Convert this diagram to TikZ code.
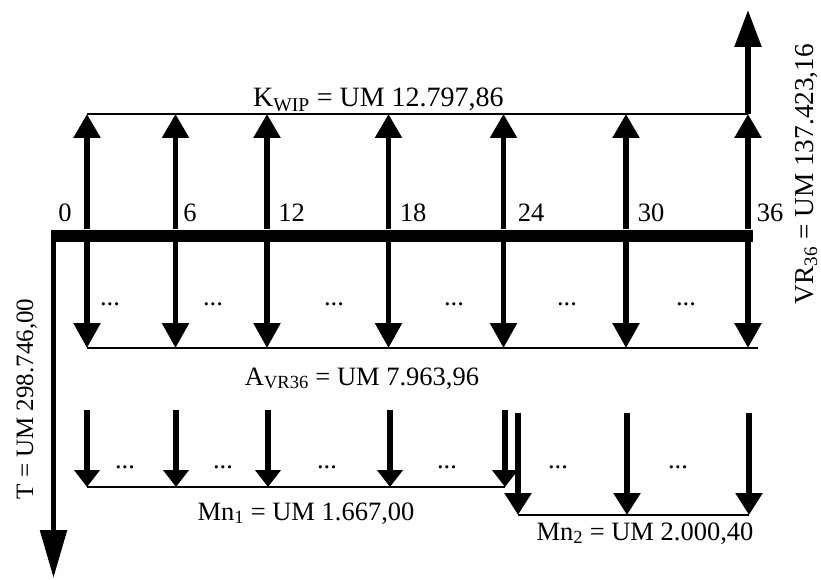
\documentclass[tikz,border=0pt]{standalone}
\usepackage{fontspec}
\setmainfont{Liberation Serif}
\usetikzlibrary{arrows.meta}
\begin{document}
\begin{tikzpicture}[x=1pt,y=-1pt,
  shaft/.style={line width=5.5pt},
  upar/.style={shaft,-{Triangle[width=26pt,length=24pt]}},
  dnar/.style={shaft,-{Triangle[width=26pt,length=25pt]}},
  mnone/.style={shaft,-{Triangle[width=25pt,length=17pt]}},
  mntwo/.style={shaft,-{Triangle[width=26pt,length=22pt]}},
  bigar/.style={shaft,-{Triangle[width=26pt,length=37pt]}},
  tar/.style={shaft,-{Triangle[width=26pt,length=48pt]}},
  thin/.style={line width=1.6pt},
  lbl/.style={font=\fontsize{26.5}{30}\selectfont, inner sep=0pt, anchor=base},
  dots/.style={font=\fontsize{26.5}{30}\selectfont, inner sep=0pt, anchor=base}
]
\useasboundingbox (0,0) rectangle (821,580);
% main axis
\coordinate (axL) at (50.5,235.5);
\coordinate (axR) at (753,235.5);
\draw[line width=12pt] (axL) -- (axR);
% tick positions
\foreach \n/\x in {0/87,6/175.5,12/267,18/388.5,24/503.5,30/626,36/748}{
  \coordinate (b\n) at (\x,229);
  \coordinate (bd\n) at (\x,242);
  \coordinate (k\n) at (\x,114);
  \coordinate (a\n) at (\x,348);
}
% K_WIP line and arrows
\draw[thin] (k0) -- (k36);
\foreach \n in {0,6,12,18,24,30,36}{ \draw[upar] (b\n) -- (k\n); }
\coordinate (vrtop) at (748,10);
\draw[bigar] (k36) -- (vrtop);
% A line and arrows
\coordinate (aR) at (758,348);
\draw[line width=2pt] (a0) -- (aR);
\foreach \n in {0,6,12,18,24,30,36}{ \draw[dnar] (bd\n) -- (a\n); }
% Mn1
\foreach \n/\x in {0/87,6/176,12/268,18/390,24/505}{
  \coordinate (ms\n) at (\x,410);
  \coordinate (me\n) at (\x,487);
}
\draw[line width=2pt] (me0) -- (me24);
\foreach \n in {0,6,12,18,24}{ \draw[mnone] (ms\n) -- (me\n); }
% Mn2
\foreach \n/\x in {24/518,30/627,36/749}{
  \coordinate (ns\n) at (\x,413);
  \coordinate (ne\n) at (\x,515);
}
\draw[line width=2pt] (ne24) -- (ne36);
\foreach \n in {24,30,36}{ \draw[mntwo] (ns\n) -- (ne\n); }
% T arrow
\coordinate (tS) at (53.5,236);
\coordinate (tE) at (53.5,578);
\draw[tar] (tS) -- (tE);
% tick labels
\foreach \t/\x in {0/65,6/190,12/291.5,18/413,24/531,30/651,36/770}{
  \node[lbl] (lab\t) at (\x,221) {\t};
}
% dots
\foreach \i/\x in {1/110,2/213,3/334,4/454,5/567,6/686}{
  \node[dots] (da\i) at (\x,305) {...};
}
\foreach \i/\x in {1/125,2/223,3/327,4/447,5/558,6/678}{
  \node[dots] (db\i) at (\x,468) {...};
}
% value labels
\node[lbl,font=\fontsize{28}{32}\selectfont] (kwip) at (378.5,107) {K\textsubscript{WIP} = UM 12.797,86};
\node[lbl] (avr) at (362,385) {A\textsubscript{VR36} = UM 7.963,96};
\node[lbl] (mn1) at (306,520) {Mn\textsubscript{1} = UM 1.667,00};
\node[lbl] (mn2) at (645,540) {Mn\textsubscript{2} = UM 2.000,40};
\node[lbl,rotate=90,font=\fontsize{25}{29}\selectfont] (tl) at (33,399) {T = UM 298.746,00};
\node[lbl,rotate=90,font=\fontsize{27.3}{31}\selectfont] (vr) at (813,174) {VR\textsubscript{36} = UM 137.423,16};
\end{tikzpicture}
\end{document}
